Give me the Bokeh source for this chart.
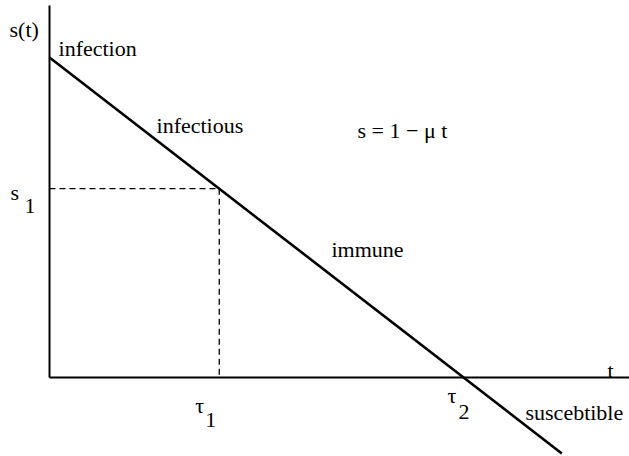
from bokeh.plotting import figure
from bokeh.models import Range1d, Arrow
from bokeh.core.properties import value
from bokeh.embed import file_html
from bokeh.resources import INLINE

# --- data -------------------------------------------------------------
s0 = 1.0            # s(0): infection
mu = 1.0            # slope of s = 1 - mu t
tau1 = 0.41         # tau_1
tau2 = s0 / mu      # tau_2 where s = 0
s1 = s0 - mu * tau1 # s_1
t_end = 1.2375      # end of the drawn line
t_max = 1.401       # end of t axis
s_top = 1.1625      # top of s axis

line_t = [0.0, t_end]
line_s = [s0 - mu * t for t in line_t]

label_text = ["s(t)", "infection", "infectious", "s = 1 \u2212 \u03bc t", "immune",
              "s", "1", "\u03c4", "1", "\u03c4", "2", "t", "suscebtible"]
label_x = [0.0, 0.0, 0.2585, 0.744, 0.681,
           0.0, 0.0, tau1, tau1, tau2, tau2, 1.348, tau2]
label_y = [s_top, s0, 0.7875, 0.772, 0.40,
           s1, s1, 0.0, 0.0, 0.0, 0.0, 0.0, 0.0]

# placement offsets (screen px, y positive = downward)
label_xo = [-40, 9, 0, 0, 0, -39, -25, -24, -14, -16, -5, 0, 62]
label_yo = [24, -9, 0, 0, 0, 4, 17, 28, 43, 18, 35, -7, 35]

p = figure(width=629, height=456, output_backend="svg", toolbar_location=None,
           x_range=Range1d(-0.1184, 1.401), y_range=Range1d(-0.247, 1.178),
           min_border=0)
p.axis.visible = False
p.grid.visible = False
p.outline_line_alpha = 0

for txt, x, y, xo, yo in zip(label_text, label_x, label_y, label_xo, label_yo):
    p.text(x=[x], y=[y], text=[txt], x_offset=xo, y_offset=yo,
           text_font=value("Liberation Serif"), text_font_size="22px",
           text_color="black", text_align="left", text_baseline="alphabetic")

def seg(x0, y0, x1, y1, width, dash="solid"):
    p.add_layout(Arrow(x_start=x0, y_start=y0, x_end=x1, y_end=y1,
                       start=None, end=None, line_color="black",
                       line_width=width, line_dash=dash))

# axes
seg(0.0, 0.0, 0.0, s_top, 2)
seg(0.0, 0.0, t_max, 0.0, 2)
# dashed guides
seg(0.0, s1, tau1, s1, 1.3, "6 4")
seg(tau1, s1, tau1, 0.0, 1.3, "6 4")
# main line
seg(line_t[0], line_s[0], line_t[1], line_s[1], 2.6)

open("out.html", "w").write(file_html(p, INLINE))
